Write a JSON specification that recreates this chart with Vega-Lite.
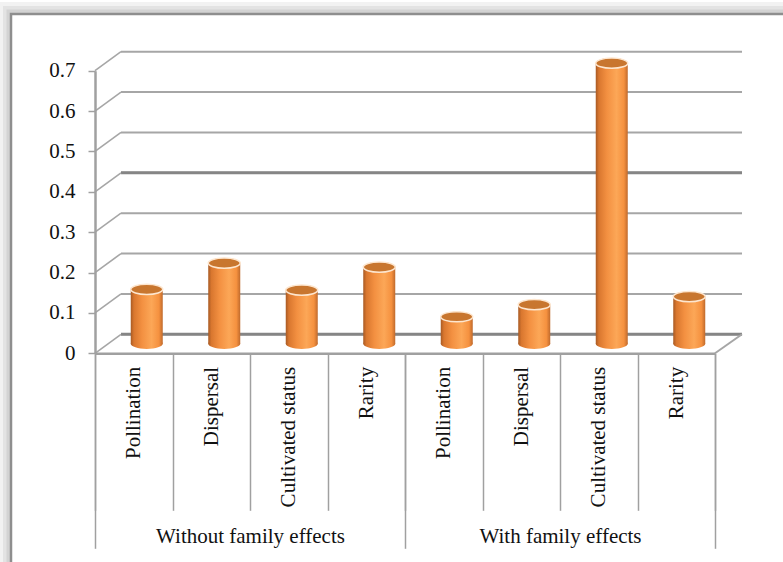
{
  "$schema": "https://vega.github.io/schema/vega-lite/v6.json",
  "width": 780,
  "height": 556,
  "autosize": {"type": "none"},
  "padding": {"left": 11, "top": 14, "right": 0, "bottom": 0},
  "background": "white",
  "config": {"view": {"stroke": null}, "font": "Liberation Serif"},
  "datasets": {
    "bars": [
      {"effects": "Without family effects", "trait": "Pollination", "id": "without|Pollination", "value": 0.135},
      {"effects": "Without family effects", "trait": "Dispersal", "id": "without|Dispersal", "value": 0.2},
      {"effects": "Without family effects", "trait": "Cultivated status", "id": "without|Cultivated status", "value": 0.133},
      {"effects": "Without family effects", "trait": "Rarity", "id": "without|Rarity", "value": 0.19},
      {"effects": "With family effects", "trait": "Pollination", "id": "with|Pollination", "value": 0.067},
      {"effects": "With family effects", "trait": "Dispersal", "id": "with|Dispersal", "value": 0.097},
      {"effects": "With family effects", "trait": "Cultivated status", "id": "with|Cultivated status", "value": 0.695},
      {"effects": "With family effects", "trait": "Rarity", "id": "with|Rarity", "value": 0.117}
    ],
    "levels": [
      {"value": 0}, {"value": 0.1}, {"value": 0.2}, {"value": 0.3},
      {"value": 0.4}, {"value": 0.5}, {"value": 0.6}, {"value": 0.7}
    ]
  },
  "layer": [
    {
      "layer": [
        {
          "data": {"values": [{}]},
          "mark": {"type": "rect", "fill": null, "stroke": "#000000", "strokeOpacity": 0.05, "strokeWidth": 24},
          "encoding": {}
        },
        {
          "data": {"values": [{}]},
          "mark": {"type": "rect", "fill": null, "stroke": "#000000", "strokeOpacity": 0.06, "strokeWidth": 16},
          "encoding": {}
        },
        {
          "data": {"values": [{}]},
          "mark": {"type": "rect", "fill": null, "stroke": "#000000", "strokeOpacity": 0.07, "strokeWidth": 9},
          "encoding": {}
        },
        {
          "data": {"values": [{}]},
          "mark": {"type": "rect", "fill": "#ffffff", "stroke": "#8e8e8e", "strokeWidth": 2.5},
          "encoding": {}
        },
        {
          "data": {"name": "levels"},
          "mark": {"type": "rule", "color": "#a6a6a6", "strokeWidth": 2, "xOffset": 26, "x2Offset": 27, "yOffset": -19},
          "encoding": {
            "x": {"datum": "without|Pollination", "type": "nominal", "bandPosition": 0,
                  "scale": {"domain": ["without|Pollination", "without|Dispersal", "without|Cultivated status", "without|Rarity", "with|Pollination", "with|Dispersal", "with|Cultivated status", "with|Rarity"], "range": [84, 704], "paddingInner": 0, "paddingOuter": 0}},
            "x2": {"datum": "with|Rarity", "bandPosition": 1},
            "y": {"field": "value", "type": "quantitative", "scale": {"domain": [0, 0.7], "range": [339.3, 56.7], "nice": false, "zero": false}}
          }
        },
        {
          "data": {"name": "levels"},
          "transform": [{"filter": "datum.value == 0 || datum.value == 0.4"}],
          "mark": {"type": "rule", "color": "#858585", "strokeWidth": 3, "xOffset": 26, "x2Offset": 27, "yOffset": -19},
          "encoding": {
            "x": {"datum": "without|Pollination", "type": "nominal", "bandPosition": 0,
                  "scale": {"domain": ["without|Pollination", "without|Dispersal", "without|Cultivated status", "without|Rarity", "with|Pollination", "with|Dispersal", "with|Cultivated status", "with|Rarity"], "range": [84, 704], "paddingInner": 0, "paddingOuter": 0}},
            "x2": {"datum": "with|Rarity", "bandPosition": 1},
            "y": {"field": "value", "type": "quantitative", "scale": {"domain": [0, 0.7], "range": [339.3, 56.7], "nice": false, "zero": false}}
          }
        },
        {
          "data": {"name": "levels"},
          "mark": {"type": "rule", "color": "#a6a6a6", "strokeWidth": 1.6, "x2Offset": 26, "y2Offset": -19},
          "encoding": {
            "x": {"datum": "without|Pollination", "type": "nominal", "bandPosition": 0,
                  "scale": {"domain": ["without|Pollination", "without|Dispersal", "without|Cultivated status", "without|Rarity", "with|Pollination", "with|Dispersal", "with|Cultivated status", "with|Rarity"], "range": [84, 704], "paddingInner": 0, "paddingOuter": 0}},
            "x2": {"datum": "without|Pollination", "bandPosition": 0},
            "y": {"field": "value", "type": "quantitative", "scale": {"domain": [0, 0.7], "range": [339.3, 56.7], "nice": false, "zero": false}},
            "y2": {"field": "value"}
          }
        },
        {
          "data": {"name": "levels"},
          "transform": [{"filter": "datum.value == 0"}],
          "mark": {"type": "rule", "color": "#a6a6a6", "strokeWidth": 2, "x2Offset": 27, "y2Offset": -19},
          "encoding": {
            "x": {"datum": "with|Rarity", "type": "nominal", "bandPosition": 1,
                  "scale": {"domain": ["without|Pollination", "without|Dispersal", "without|Cultivated status", "without|Rarity", "with|Pollination", "with|Dispersal", "with|Cultivated status", "with|Rarity"], "range": [84, 704], "paddingInner": 0, "paddingOuter": 0}},
            "x2": {"datum": "with|Rarity", "bandPosition": 1},
            "y": {"field": "value", "type": "quantitative", "scale": {"domain": [0, 0.7], "range": [339.3, 56.7], "nice": false, "zero": false}},
            "y2": {"field": "value"}
          }
        },
        {
          "data": {"name": "bars"},
          "mark": {
            "type": "point", "filled": true, "size": 1024, "opacity": 1,
            "shape": "M -1 0 A 1 0.32 0 1 0 1 0 A 1 0.32 0 1 0 -1 0 Z",
            "xOffset": 13, "yOffset": -9.5,
            "fill": {"gradient": "linear", "x1": 0, "x2": 1, "y1": 0, "y2": 0,
                     "stops": [{"offset": 0, "color": "#a85a24"}, {"offset": 0.1, "color": "#d9772f"}, {"offset": 0.35, "color": "#f39041"}, {"offset": 0.65, "color": "#fca757"}, {"offset": 0.88, "color": "#f5913f"}, {"offset": 1, "color": "#c06a2c"}]}
          },
          "encoding": {
            "x": {"field": "id", "type": "nominal",
                  "scale": {"domain": ["without|Pollination", "without|Dispersal", "without|Cultivated status", "without|Rarity", "with|Pollination", "with|Dispersal", "with|Cultivated status", "with|Rarity"], "range": [84, 704], "paddingInner": 0, "paddingOuter": 0}},
            "y": {"datum": 0, "type": "quantitative", "scale": {"domain": [0, 0.7], "range": [339.3, 56.7], "nice": false, "zero": false}}
          }
        },
        {
          "data": {"name": "bars"},
          "mark": {
            "type": "bar", "width": {"band": 0.413},
            "xOffset": 13, "yOffset": -9.5, "y2Offset": -9.5,
            "fill": {"gradient": "linear", "x1": 0, "x2": 1, "y1": 0, "y2": 0,
                     "stops": [{"offset": 0, "color": "#a85a24"}, {"offset": 0.1, "color": "#d9772f"}, {"offset": 0.35, "color": "#f39041"}, {"offset": 0.65, "color": "#fca757"}, {"offset": 0.88, "color": "#f5913f"}, {"offset": 1, "color": "#c06a2c"}]}
          },
          "encoding": {
            "x": {"field": "id", "type": "nominal",
                  "scale": {"domain": ["without|Pollination", "without|Dispersal", "without|Cultivated status", "without|Rarity", "with|Pollination", "with|Dispersal", "with|Cultivated status", "with|Rarity"], "range": [84, 704], "paddingInner": 0, "paddingOuter": 0},
                  "axis": {
                    "orient": "bottom", "offset": -216.7, "title": null, "zindex": 2,
                    "domainColor": "#a0a0a0", "domainWidth": 2.5,
                    "tickBand": "extent", "tickSize": 157, "tickColor": "#a0a0a0", "tickWidth": 1.5,
                    "labelAngle": -90, "labelAlign": "right", "labelBaseline": "middle",
                    "labelPadding": -144, "labelFont": "Liberation Serif", "labelFontSize": 21, "labelColor": "#111111",
                    "labelOverlap": false, "labelFlush": false, "labelBound": false, "labelLimit": 0,
                    "labelExpr": "split(datum.value, '|')[1]"
                  }},
            "y": {"field": "value", "type": "quantitative",
                  "scale": {"domain": [0, 0.7], "range": [339.3, 56.7], "nice": false, "zero": false},
                  "axis": {
                    "offset": -84, "title": null, "grid": false, "zindex": 2,
                    "values": [0, 0.1, 0.2, 0.3, 0.4, 0.5, 0.6, 0.7], "format": ".1~f",
                    "domainColor": "#a0a0a0", "domainWidth": 2.5,
                    "tickSize": 7, "tickColor": "#a0a0a0", "tickWidth": 1.5,
                    "labelPadding": 13, "labelFont": "Liberation Serif", "labelFontSize": 21, "labelColor": "#111111"
                  }},
            "y2": {"datum": 0}
          }
        },
        {
          "data": {"name": "bars"},
          "mark": {
            "type": "point", "filled": true, "size": 1024, "opacity": 1,
            "shape": "M -1 0 A 1 0.32 0 1 0 1 0 A 1 0.32 0 1 0 -1 0 Z",
            "xOffset": 13, "yOffset": -9.5,
            "fill": "#c8762f", "stroke": "#fde6cf", "strokeWidth": 1.5
          },
          "encoding": {
            "x": {"field": "id", "type": "nominal",
                  "scale": {"domain": ["without|Pollination", "without|Dispersal", "without|Cultivated status", "without|Rarity", "with|Pollination", "with|Dispersal", "with|Cultivated status", "with|Rarity"], "range": [84, 704], "paddingInner": 0, "paddingOuter": 0}},
            "y": {"field": "value", "type": "quantitative", "scale": {"domain": [0, 0.7], "range": [339.3, 56.7], "nice": false, "zero": false}}
          }
        }
      ]
    },
    {
      "data": {"name": "bars"},
      "mark": {"type": "tick", "opacity": 0},
      "encoding": {
        "x": {"field": "effects", "type": "nominal",
              "scale": {"domain": ["Without family effects", "With family effects"], "range": [84, 704], "paddingInner": 0, "paddingOuter": 0},
              "axis": {
                "orient": "bottom", "offset": -216.7, "title": null, "domain": false, "zindex": 2,
                "tickBand": "extent", "tickSize": 195, "tickColor": "#a0a0a0", "tickWidth": 1.5,
                "labelAngle": 0, "labelAlign": "center", "labelBaseline": "top",
                "labelPadding": -23, "labelFont": "Liberation Serif", "labelFontSize": 21, "labelColor": "#111111",
                "labelOverlap": false, "labelFlush": false, "labelLimit": 0
              }}
      }
    }
  ],
  "resolve": {"scale": {"x": "independent"}, "axis": {"x": "independent"}}
}
